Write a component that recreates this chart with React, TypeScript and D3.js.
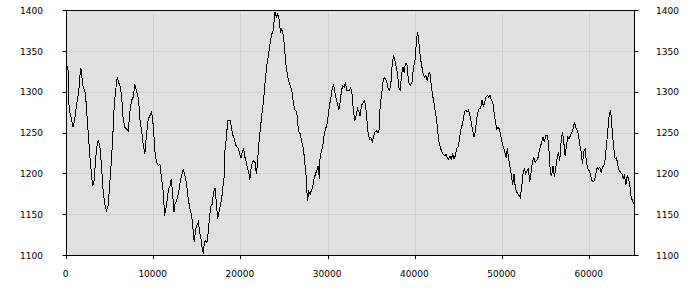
import React from "react";
import * as d3 from "d3";

// x positions (sample index units) and values
const positions: number[] = [
  0, 190, 300, 570, 760, 950, 1140, 1340, 1450, 1600, 1720, 1830, 2020, 2180, 2290, 2480, 2680, 2870, 2980, 3130,
  3290, 3440, 3630, 3820, 4010, 4210, 4400, 4590, 4780, 4970, 5160, 5350, 5470, 5660, 5810, 5970, 6120, 6310, 6500, 6690,
  6890, 7080, 7270, 7460, 7650, 7840, 7960, 8110, 8260, 8420, 8610, 8800, 8990, 9180, 9370, 9560, 9760, 9950, 10140, 10330,
  10520, 10710, 10900, 11090, 11250, 11400, 11550, 11710, 11860, 12010, 12170, 12320,
  12430, 12630, 12820, 13010, 13200, 13390, 13580, 13770, 13960, 14160, 14350, 14540, 14650, 14810, 14960, 15110, 15270, 15420,
  15570, 15690, 15800, 15960, 16110, 16260, 16410, 16570, 16720, 16870, 17030, 17180, 17330, 17490, 17640, 17790, 17950, 18100,
  18180, 18330, 18480, 18630, 18790, 18940, 19090, 19250, 19400, 19550, 19710, 19860, 20010, 20160, 20320, 20470, 20620, 20780,
  20930, 21010, 21160, 21310, 21470, 21620, 21770, 21930, 22000, 22190, 22380, 22580, 22770, 22960, 23150, 23340, 23530, 23690,
  23800, 23910, 24070, 24220, 24370, 24530, 24680, 24830, 24990, 25140, 25290, 25450,
  25640, 25830, 26020, 26210, 26400, 26590, 26790, 26980, 27170, 27320, 27470, 27630, 27780, 27930, 28090, 28240, 28390, 28550,
  28700, 28850, 29000, 29080, 29230, 29390, 29540, 29690, 29850, 30000, 30150, 30310, 30460, 30610, 30770, 30920, 31070, 31220,
  31380, 31530, 31680, 31840, 31990, 32140, 32300, 32450, 32600, 32760, 32910, 33060, 33210, 33370, 33520, 33670, 33830, 33980,
  34130, 34290, 34440, 34590, 34750, 34900, 35050, 35200, 35360, 35510, 35660, 35820, 35970, 36120, 36280, 36430, 36580, 36740,
  36890, 37040, 37190, 37350, 37500, 37650, 37810, 37960, 38110, 38270, 38420, 38570, 38730,
  38840, 39030, 39220, 39420, 39610, 39800, 39990, 40140, 40260, 40370, 40490, 40600, 40750, 40910, 41060, 41210, 41370, 41520,
  41670, 41830, 41980, 42130, 42290, 42440, 42590, 42740, 42900, 43050, 43200, 43360, 43510, 43660, 43820, 43970, 44120, 44280,
  44430, 44580, 44730, 44890, 45040, 45190, 45350, 45500, 45650, 45810, 45960, 46110, 46270, 46420, 46570, 46720, 46880, 47030,
  47180, 47340, 47490, 47640, 47800, 47950, 48100, 48260, 48410, 48560, 48710, 48870, 49020, 49170, 49330, 49480, 49630, 49790,
  49940, 50090, 50250, 50400, 50550, 50700, 50860, 51010, 51160, 51320, 51470, 51620, 51780, 51930,
  52040, 52200, 52350, 52500, 52660, 52810, 52960, 53120, 53270, 53420, 53580, 53730, 53880, 54030, 54190, 54340, 54490, 54650,
  54800, 54950, 55110, 55260, 55410, 55490, 55640, 55790, 55950, 56100, 56250, 56410, 56560, 56710, 56870, 57020, 57170, 57330,
  57480, 57630, 57790, 57940, 58090, 58240, 58400, 58550, 58700, 58860, 59010, 59160, 59320, 59470, 59620, 59780, 59930, 60080,
  60230, 60390, 60540, 60690, 60850, 61000, 61150, 61310, 61460, 61610, 61770, 61920, 62070, 62220, 62380, 62450, 62610, 62760,
  62910, 63070, 63220, 63370, 63530, 63680, 63830, 63980, 64140, 64290, 64440, 64600, 64750, 64900, 65060, 65130,
];

const values: number[] = [
  1335, 1327, 1280, 1267, 1257, 1267, 1284, 1296, 1306, 1329, 1327, 1310, 1304, 1298, 1280, 1251, 1222, 1198, 1186, 1188,
  1210, 1231, 1241, 1235, 1210, 1178, 1163, 1155, 1161, 1190, 1218, 1255, 1284, 1304, 1318, 1312, 1308, 1296, 1267, 1257,
  1255, 1253, 1276, 1290, 1294, 1310, 1304, 1298, 1292, 1267, 1253, 1235, 1225, 1249, 1267, 1271, 1276, 1259, 1227, 1214,
  1210, 1212, 1194, 1178, 1149, 1157, 1169, 1182, 1184, 1194, 1176, 1153,
  1163, 1167, 1175, 1188, 1198, 1206, 1198, 1188, 1169, 1157, 1149, 1129, 1116, 1133, 1137, 1141, 1129, 1120,
  1108, 1102, 1116, 1118, 1116, 1129, 1149, 1161, 1163, 1178, 1182, 1165, 1145, 1153, 1161, 1169, 1186, 1198,
  1231, 1243, 1265, 1265, 1265, 1255, 1247, 1243, 1235, 1233, 1231, 1224, 1220, 1227, 1231, 1220, 1214, 1206,
  1200, 1192, 1206, 1214, 1216, 1214, 1200, 1216, 1231, 1251, 1271, 1288, 1312, 1333, 1345, 1359, 1371, 1375,
  1386, 1398, 1392, 1396, 1390, 1373, 1378, 1371, 1357, 1335, 1324, 1314,
  1308, 1302, 1286, 1278, 1276, 1253, 1249, 1239, 1231, 1214, 1198, 1167, 1178, 1175, 1180, 1184, 1194, 1200,
  1204, 1210, 1194, 1222, 1227, 1235, 1247, 1255, 1259, 1271, 1284, 1292, 1304, 1310, 1300, 1292, 1286, 1278,
  1288, 1302, 1308, 1306, 1312, 1302, 1302, 1302, 1306, 1296, 1276, 1265, 1271, 1280, 1276, 1271, 1284, 1286,
  1290, 1284, 1267, 1249, 1243, 1245, 1239, 1245, 1251, 1253, 1251, 1251, 1284, 1296, 1312, 1318, 1316, 1312,
  1304, 1302, 1310, 1335, 1345, 1339, 1331, 1322, 1306, 1302, 1322, 1331, 1324,
  1335, 1335, 1312, 1308, 1312, 1331, 1341, 1365, 1373, 1365, 1351, 1341, 1331, 1322, 1318, 1320, 1314, 1322,
  1324, 1308, 1296, 1288, 1276, 1267, 1249, 1237, 1231, 1227, 1224, 1222, 1224, 1220, 1218, 1222, 1218, 1224,
  1218, 1222, 1231, 1233, 1241, 1253, 1259, 1267, 1276, 1278, 1276, 1278, 1271, 1263, 1253, 1245, 1251, 1267,
  1276, 1280, 1280, 1290, 1282, 1288, 1294, 1296, 1294, 1296, 1290, 1288, 1276, 1265, 1255, 1257, 1255, 1247,
  1239, 1233, 1227, 1220, 1231, 1218, 1208, 1198, 1186, 1200, 1182, 1178, 1175, 1173,
  1171, 1184, 1200, 1206, 1200, 1204, 1206, 1190, 1202, 1214, 1220, 1214, 1216, 1218, 1227, 1233, 1239, 1245,
  1239, 1247, 1247, 1239, 1214, 1200, 1198, 1210, 1196, 1208, 1218, 1227, 1216, 1239, 1251, 1239, 1222, 1235,
  1245, 1243, 1247, 1251, 1255, 1263, 1257, 1253, 1249, 1235, 1227, 1212, 1227, 1231, 1214, 1206, 1204, 1200,
  1192, 1190, 1192, 1200, 1208, 1206, 1208, 1202, 1208, 1210, 1218, 1235, 1253, 1271, 1278, 1271, 1247, 1231,
  1218, 1220, 1210, 1204, 1202, 1200, 1194, 1198, 1186, 1198, 1194, 1186, 1171, 1167, 1163, 1161,
];

const xTicks: number[] = [0, 10000, 20000, 30000, 40000, 50000, 60000];
const yTicks: number[] = [1100, 1150, 1200, 1250, 1300, 1350, 1400];
const xDomain: [number, number] = [0, 65130];
const yDomain: [number, number] = [1100, 1400];

export default function App() {
  const W = 700;
  const H = 300;
  const left = 66.5;
  const right = 634.5;
  const top = 10.5;
  const bottom = 255.5;

  const x = d3.scaleLinear().domain(xDomain).range([left, right]);
  const y = d3.scaleLinear().domain(yDomain).range([bottom, top]);
  const crisp = (v: number) => Math.round(v - 0.5) + 0.5;

  const pts: [number, number][] = positions.map((p, i) => [p, values[i]]);
  const line = d3
    .line<[number, number]>()
    .x((d) => x(d[0]))
    .y((d) => y(d[1]));

  const font = "'DejaVu Sans', Verdana, sans-serif";

  return (
    <svg
      width={W}
      height={H}
      style={{ position: "absolute", left: 0, top: 0, background: "#ffffff" }}
      fontFamily={font}
      fontSize={9}
    >
      <rect x={left} y={top} width={right - left} height={bottom - top} fill="#e0e0e0" />
      {xTicks.map((t) => (
        <line key={"gx" + t} x1={crisp(x(t))} x2={crisp(x(t))} y1={top} y2={bottom} stroke="#cfcfcf" strokeWidth={1} />
      ))}
      {yTicks.map((t) => (
        <line key={"gy" + t} x1={left} x2={right} y1={crisp(y(t))} y2={crisp(y(t))} stroke="#cfcfcf" strokeWidth={1} />
      ))}
      <path d={line(pts) || ""} fill="none" stroke="#000000" strokeWidth={1} shapeRendering="crispEdges" />
      <rect x={left} y={top} width={right - left} height={bottom - top} fill="none" stroke="#000000" strokeWidth={1} />
      {yTicks.map((t) => (
        <g key={"ly" + t}>
          <line x1={left - 4} x2={left} y1={crisp(y(t))} y2={crisp(y(t))} stroke="#000" />
          <line x1={right} x2={right + 4} y1={crisp(y(t))} y2={crisp(y(t))} stroke="#000" />
          <text x={43} y={y(t) + 3.3} textAnchor="end" fill="#000">
            {t}
          </text>
          <text x={656} y={y(t) + 3.3} textAnchor="start" fill="#000">
            {t}
          </text>
        </g>
      ))}
      {xTicks.map((t) => (
        <g key={"lx" + t}>
          <line x1={crisp(x(t))} x2={crisp(x(t))} y1={bottom} y2={bottom + 3.5} stroke="#000" />
          <text x={x(t) - 1} y={277.3} textAnchor="middle" fill="#000">
            {t}
          </text>
        </g>
      ))}
    </svg>
  );
}
